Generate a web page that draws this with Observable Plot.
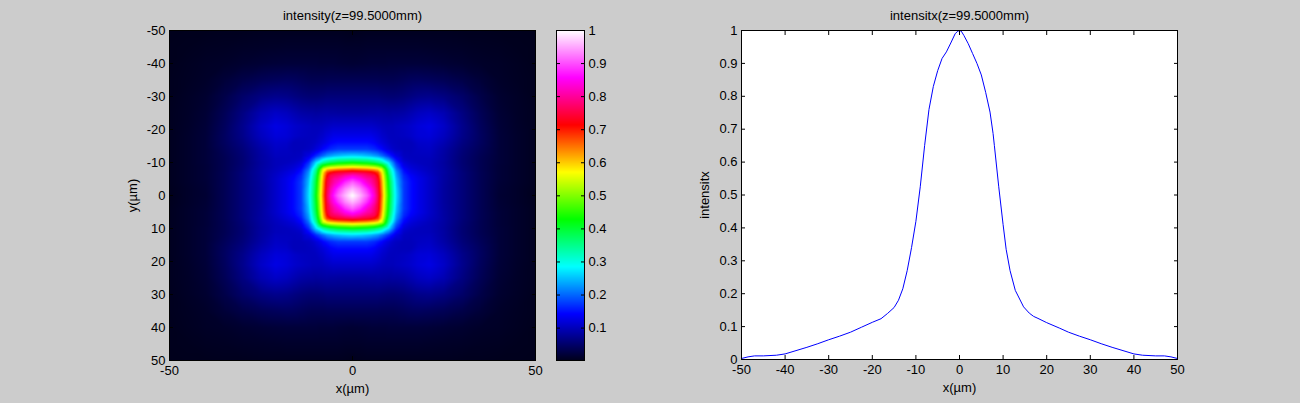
<!DOCTYPE html>
<html>
<head>
<meta charset="utf-8">
<script src="https://cdn.jsdelivr.net/npm/d3@7"></script>
<script src="https://cdn.jsdelivr.net/npm/@observablehq/plot@0.6"></script>
<style>
html,body{margin:0;padding:0;background:#cccccc;overflow:hidden}
#fig{position:relative;width:1300px;height:403px;background:#cccccc}
#fig svg{position:absolute;top:0;background:transparent;font-family:"Liberation Sans",Arial,sans-serif}
</style>
</head>
<body>
<div id="fig"></div>
<script>
const titleLeft = "intensity(z=99.5000mm)";
const titleRight = "intensitx(z=99.5000mm)";
const xLabel = "x(µm)";
const yLabelLeft = "y(µm)";
const yLabelRight = "intensitx";

const mapTicks = [-50,-40,-30,-20,-10,0,10,20,30,40,50];
const mapXTicks = [-50,0,50];
const lineXTicks = [-50,-40,-30,-20,-10,0,10,20,30,40,50];
const unitTicks = [0.1,0.2,0.3,0.4,0.5,0.6,0.7,0.8,0.9,1];
const lineYTicks = [0,0.1,0.2,0.3,0.4,0.5,0.6,0.7,0.8,0.9,1];

const colorStops = [0,1/7,2/7,3/7,4/7,5/7,6/7,1];
const colorRange = ["#000018","#0000ff","#00ffff","#00ff00","#ffff00","#ff0000","#ff00ff","#ffffff"];

// Profile through the centre of the beam
const profileX = [-50,-48.5,-47,-45,-42,-40,-37.5,-35,-32.5,-30,-27.5,-25,-22.5,-20,-18,-16.5,-15,-14,-13,-12,-11,-10,-9,-8,-7,-6,-5,-4,-3,-2,-1,-0.4,0,0.4,1,2,3,4,5,6,7,7.7,8,9,10,10.7,11.6,12.8,14.7,16,17,18,20,23,25,27.5,30,32.5,35,37.5,40,42,45,47,48.5,50];
const profileY = [0.003,0.008,0.011,0.011,0.013,0.017,0.027,0.037,0.048,0.06,0.071,0.083,0.098,0.113,0.124,0.14,0.158,0.18,0.215,0.27,0.34,0.42,0.525,0.65,0.76,0.83,0.878,0.915,0.935,0.962,0.99,0.998,1,0.998,0.985,0.96,0.93,0.9,0.865,0.812,0.752,0.687,0.65,0.525,0.41,0.335,0.27,0.21,0.16,0.141,0.131,0.125,0.112,0.095,0.083,0.071,0.06,0.048,0.037,0.027,0.017,0.013,0.011,0.011,0.008,0.003];

const offsets = [0,2,4,5,6,7,8,9,10,11,12,14,16,18,21,25,30,35,40,45,50];
const rows = [
[1,.96,.91,.875,.83,.76,.65,.53,.42,.335,.265,.175,.148,.13,.11,.083,.06,.037,.017,.011,.003],
[.93,.88,.85,.81,.75,.64,.52,.41,.33,.26,.175,.148,.13,.11,.083,.06,.037,.018,.011,.004],
[.83,.81,.78,.74,.63,.51,.40,.325,.25,.175,.148,.13,.11,.084,.06,.037,.019,.012,.005],
[.80,.77,.73,.62,.50,.39,.315,.245,.17,.145,.13,.11,.085,.06,.037,.02,.012,.005],
[.76,.71,.61,.49,.38,.305,.235,.165,.14,.125,.108,.085,.06,.037,.02,.012,.005],
[.68,.59,.47,.36,.295,.225,.155,.13,.12,.105,.086,.06,.037,.02,.012,.005],
[.55,.44,.34,.275,.205,.145,.122,.112,.102,.085,.058,.036,.02,.012,.005],
[.38,.30,.24,.185,.13,.115,.108,.1,.084,.057,.036,.02,.012,.005],
[.265,.215,.165,.12,.108,.103,.1,.083,.056,.036,.021,.012,.005],
[.175,.145,.11,.104,.102,.1,.085,.056,.036,.021,.012,.005],
[.125,.105,.102,.103,.103,.085,.057,.037,.021,.012,.005],
[.1,.1,.105,.107,.088,.06,.04,.021,.012,.005],
[.1,.11,.112,.095,.065,.043,.021,.012,.005],
[.118,.12,.103,.07,.044,.021,.012,.005],
[.126,.108,.072,.042,.02,.011,.005],
[.095,.065,.038,.018,.01,.005],
[.05,.03,.015,.009,.004],
[.02,.011,.007,.004],
[.009,.006,.003],
[.004,.003],
[.002]
];

const gridPoints = [];
rows.forEach((row,i)=>row.forEach((v,k)=>{
  const a = offsets[i], b = offsets[i+k];
  for (const [p,q] of (a===b?[[a,b]]:[[a,b],[b,a]]))
    for (const sx of (p===0?[1]:[1,-1]))
      for (const sy of (q===0?[1]:[1,-1]))
        gridPoints.push({x:sx*p,y:sy*q,v});
}));

const colorScale = {type:"linear",domain:colorStops,range:colorRange,clamp:true};
const FS = 13;
const K = "#000";
const baseStyle = {background:"transparent",fontFamily:"Liberation Sans",fontSize:FS+"px",overflow:"visible"};

function frameAxes(xTicks,yTicks){
  return [
    Plot.frame({stroke:K,strokeWidth:1}),
    Plot.axisY(yTicks,{anchor:"right",tickSize:-4,stroke:K,strokeOpacity:1,tickFormat:()=>"",label:null}),
    Plot.axisY(yTicks,{anchor:"left",tickSize:-4,tickPadding:8,stroke:K,strokeOpacity:1,fill:K,fontSize:FS,tickFormat:d=>String(d),label:null}),
    Plot.axisX(xTicks,{anchor:"top",tickSize:-4,stroke:K,strokeOpacity:1,tickFormat:()=>"",label:null}),
    Plot.axisX(xTicks,{anchor:"bottom",tickSize:-4,tickPadding:9,stroke:K,strokeOpacity:1,fill:K,fontSize:FS,tickFormat:d=>String(d),label:null})
  ];
}
function labels(title,xText,yText){
  return [
    Plot.text([title],{frameAnchor:"top",lineAnchor:"middle",dy:-15,fontSize:FS,fill:K}),
    Plot.text([xText],{frameAnchor:"bottom",lineAnchor:"middle",dy:28,fontSize:FS,fill:K}),
    Plot.text([yText],{frameAnchor:"left",textAnchor:"middle",lineAnchor:"middle",dx:-37,rotate:-90,fontSize:FS,fill:K})
  ];
}

// Heat map
const left = Plot.plot({
  width:560,height:403,marginLeft:169,marginRight:25,marginTop:30,marginBottom:43,
  style:baseStyle,
  x:{domain:[-50,50]},y:{domain:[-50,50],reverse:true},
  color:colorScale,
  marks:[
    Plot.raster(gridPoints,{x:"x",y:"y",fill:"v",x1:-50,x2:50,y1:-50,y2:50,interpolate:"barycentric",pixelSize:1,imageRendering:"auto"}),
    ...frameAxes(mapXTicks,mapTicks),
    ...labels(titleLeft,xLabel,yLabelLeft)
  ]
});
left.style.left="0px";

// Colour bar
const bar = Plot.plot({
  width:640,height:403,marginLeft:556,marginRight:56,marginTop:30,marginBottom:43,
  style:baseStyle,
  x:{domain:[0,1],axis:null},y:{domain:[0.002,1]},
  color:colorScale,
  marks:[
    Plot.raster({fill:(x,y)=>y,x1:0,x2:1,y1:0.002,y2:1,pixelSize:1}),
    Plot.frame({stroke:K}),
    Plot.axisY(unitTicks,{anchor:"left",tickSize:-4,stroke:K,strokeOpacity:1,tickFormat:()=>"",label:null}),
    Plot.axisY(unitTicks,{anchor:"right",tickSize:-4,tickPadding:8,stroke:K,strokeOpacity:1,fill:K,fontSize:FS,tickFormat:d=>String(d),label:null})
  ]
});
bar.style.left="0px";

// Profile
const right = Plot.plot({
  width:1300,height:403,marginLeft:741,marginRight:123,marginTop:30,marginBottom:44,
  style:baseStyle,
  x:{domain:[-50,50]},y:{domain:[0,1]},
  marks:[
    Plot.frame({fill:"#fff",stroke:"none"}),
    Plot.line(profileX.map((x,i)=>({x,y:profileY[i]})),{x:"x",y:"y",stroke:"#0000ff",strokeWidth:1,curve:"linear"}),
    ...frameAxes(lineXTicks,lineYTicks),
    ...labels(titleRight,xLabel,yLabelRight)
  ]
});
right.style.left="0px";

document.getElementById("fig").append(right,left,bar);
</script>
</body>
</html>
